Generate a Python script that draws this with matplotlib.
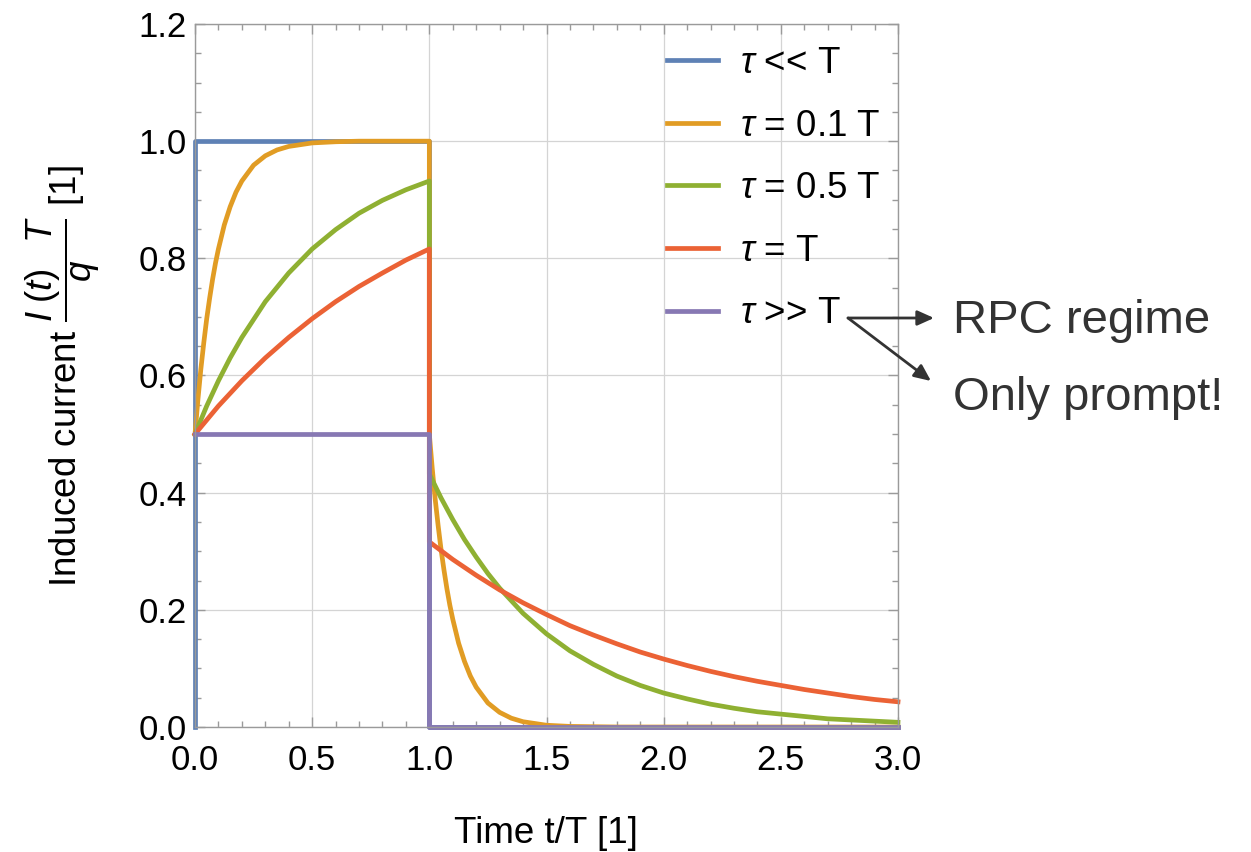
import matplotlib
matplotlib.use("Agg")
import matplotlib.pyplot as plt
from matplotlib.ticker import MultipleLocator, FormatStrFormatter

plt.rcParams['font.family'] = ['Liberation Sans', 'DejaVu Sans']
plt.rcParams['mathtext.fontset'] = 'custom'
plt.rcParams['mathtext.rm'] = 'Liberation Sans'
plt.rcParams['mathtext.it'] = 'Liberation Sans:italic'

# values
t_rise = [0.0, 0.1, 0.2, 0.3, 0.4, 0.5, 0.6, 0.7, 0.8, 0.9, 1.0]
t_decay = [1.0, 1.1, 1.2, 1.3, 1.4, 1.5, 1.6, 1.7, 1.8, 1.9, 2.0,
           2.1, 2.2, 2.3, 2.4, 2.5, 2.6, 2.7, 2.8, 2.9, 3.0]

blue_t = [0.0, 0.0, 1.0, 1.0, 3.0]
blue_y = [0.0, 1.0, 1.0, 0.0, 0.0]

orange_t = [0.0, 0.0125, 0.025, 0.0375, 0.05, 0.0625, 0.075, 0.0875, 0.1, 0.125, 0.15, 0.175, 0.2,
            0.25, 0.3, 0.35, 0.4, 0.5, 0.6, 0.7, 1.0,
            1.0, 1.0125, 1.025, 1.0375, 1.05, 1.0625, 1.075, 1.0875, 1.1, 1.125, 1.15, 1.175, 1.2,
            1.25, 1.3, 1.35, 1.4, 1.45, 1.5, 1.6, 1.8, 3.0]
orange_y = [0.5, 0.559, 0.611, 0.656, 0.697, 0.732, 0.764, 0.792, 0.816, 0.857, 0.888, 0.913, 0.932,
            0.959, 0.975, 0.985, 0.991, 0.997, 0.999, 1.0, 1.0,
            0.5, 0.441, 0.389, 0.344, 0.303, 0.268, 0.236, 0.208, 0.184, 0.143, 0.112, 0.087, 0.068,
            0.041, 0.025, 0.015, 0.009, 0.006, 0.003, 0.001, 0.0, 0.0]

green_t = [0.0, 0.05, 0.1, 0.15, 0.2, 0.3, 0.4, 0.5, 0.6, 0.7, 0.8, 0.9, 1.0,
           1.0, 1.05, 1.1, 1.15, 1.2, 1.25, 1.3, 1.4, 1.5, 1.6, 1.7, 1.8, 1.9, 2.0,
           2.1, 2.2, 2.3, 2.4, 2.5, 2.6, 2.7, 2.8, 2.9, 3.0]
green_y = [0.5, 0.548, 0.591, 0.630, 0.665, 0.726, 0.775, 0.816, 0.849, 0.877, 0.899, 0.917, 0.932,
           0.432, 0.391, 0.354, 0.320, 0.290, 0.262, 0.237, 0.194, 0.159, 0.130, 0.107, 0.087, 0.071, 0.058,
           0.048, 0.039, 0.032, 0.026, 0.022, 0.018, 0.014, 0.012, 0.010, 0.008]

red_rise = [0.5, 0.548, 0.591, 0.630, 0.665, 0.697, 0.726, 0.752, 0.775, 0.797, 0.816]
red_decay = [0.316, 0.286, 0.259, 0.234, 0.212, 0.192, 0.173, 0.157, 0.142, 0.128, 0.116,
             0.105, 0.095, 0.086, 0.078, 0.071, 0.064, 0.058, 0.052, 0.047, 0.043]

purple_t = [0.0, 1.0, 1.0, 3.0]
purple_y = [0.5, 0.5, 0.0, 0.0]

labels = [r'$\tau$ << T', r'$\tau$ = 0.1 T', r'$\tau$ = 0.5 T', r'$\tau$ = T', r'$\tau$ >> T']
colors = ['#5E81B5', '#E19C24', '#8FB032', '#EB6235', '#8778B3']

fig = plt.figure(figsize=(12.51, 8.52), dpi=100)
ax = fig.add_axes([195 / 1251, 125 / 852, 703 / 1251, 703 / 852])

lw = 3.4
ax.plot(blue_t, blue_y, color=colors[0], lw=lw, label=labels[0], clip_on=False)
ax.plot(orange_t, orange_y, color=colors[1], lw=lw, label=labels[1], clip_on=False)
ax.plot(green_t, green_y, color=colors[2], lw=lw, label=labels[2], clip_on=False)
ax.plot(t_rise + t_decay, red_rise + red_decay, color=colors[3], lw=lw, label=labels[3], clip_on=False)
ax.plot(purple_t, purple_y, color=colors[4], lw=lw, label=labels[4], clip_on=False)

ax.set_xlim(0, 3)
ax.set_ylim(0, 1.2)
ax.xaxis.set_major_locator(MultipleLocator(0.5))
ax.xaxis.set_minor_locator(MultipleLocator(0.1))
ax.yaxis.set_major_locator(MultipleLocator(0.2))
ax.yaxis.set_minor_locator(MultipleLocator(0.05))
ax.xaxis.set_major_formatter(FormatStrFormatter('%.1f'))
ax.yaxis.set_major_formatter(FormatStrFormatter('%.1f'))

ax.grid(True, which='major', color='#d4d4d4', lw=0.9)
ax.set_axisbelow(True)
for s in ax.spines.values():
    s.set_color('#9a9a9a')
    s.set_linewidth(1.0)
ax.tick_params(which='both', direction='in', top=True, right=True, color='#9a9a9a', width=1.0)
ax.tick_params(which='major', length=7, labelsize=25)
ax.tick_params(which='minor', length=4.5)
ax.tick_params(axis='x', which='major', pad=12)
ax.tick_params(axis='y', which='major', pad=6)

ax.set_ylabel(r'Induced current $\dfrac{I\;(t)\;\;\;T}{q}$ [1]', fontsize=26.5, labelpad=26)
fig.text(546 / 1251, 1 - 843 / 852, 'Time t/T [1]', fontsize=26.5, ha='center', va='baseline')

ax.legend(loc='upper left', bbox_to_anchor=(667 / 1251, 1 - 46 / 852), bbox_transform=fig.transFigure,
          frameon=False, fontsize=26.5, handlelength=1.39, handletextpad=0.6, labelspacing=0.75,
          borderpad=0, borderaxespad=0)

# arrows to the notes on the right
start = (848 / 1251, 1 - 318 / 852)
arrow = dict(arrowstyle='-|>,head_length=1.0,head_width=0.45', color='#333333', lw=2.0,
             shrinkA=0, shrinkB=0)
ax.annotate('', xy=(934 / 1251, 1 - 318 / 852), xytext=start, xycoords='figure fraction',
            textcoords='figure fraction', arrowprops=arrow, annotation_clip=False)
ax.annotate('', xy=(931 / 1251, 1 - 381 / 852), xytext=start, xycoords='figure fraction',
            textcoords='figure fraction', arrowprops=arrow, annotation_clip=False)
fig.text(953 / 1251, 1 - 333 / 852, 'RPC regime', fontsize=34, color='#333333', va='baseline')
fig.text(953 / 1251, 1 - 410 / 852, 'Only prompt!', fontsize=34, color='#333333', va='baseline')

fig.savefig('out.png', dpi=100)
